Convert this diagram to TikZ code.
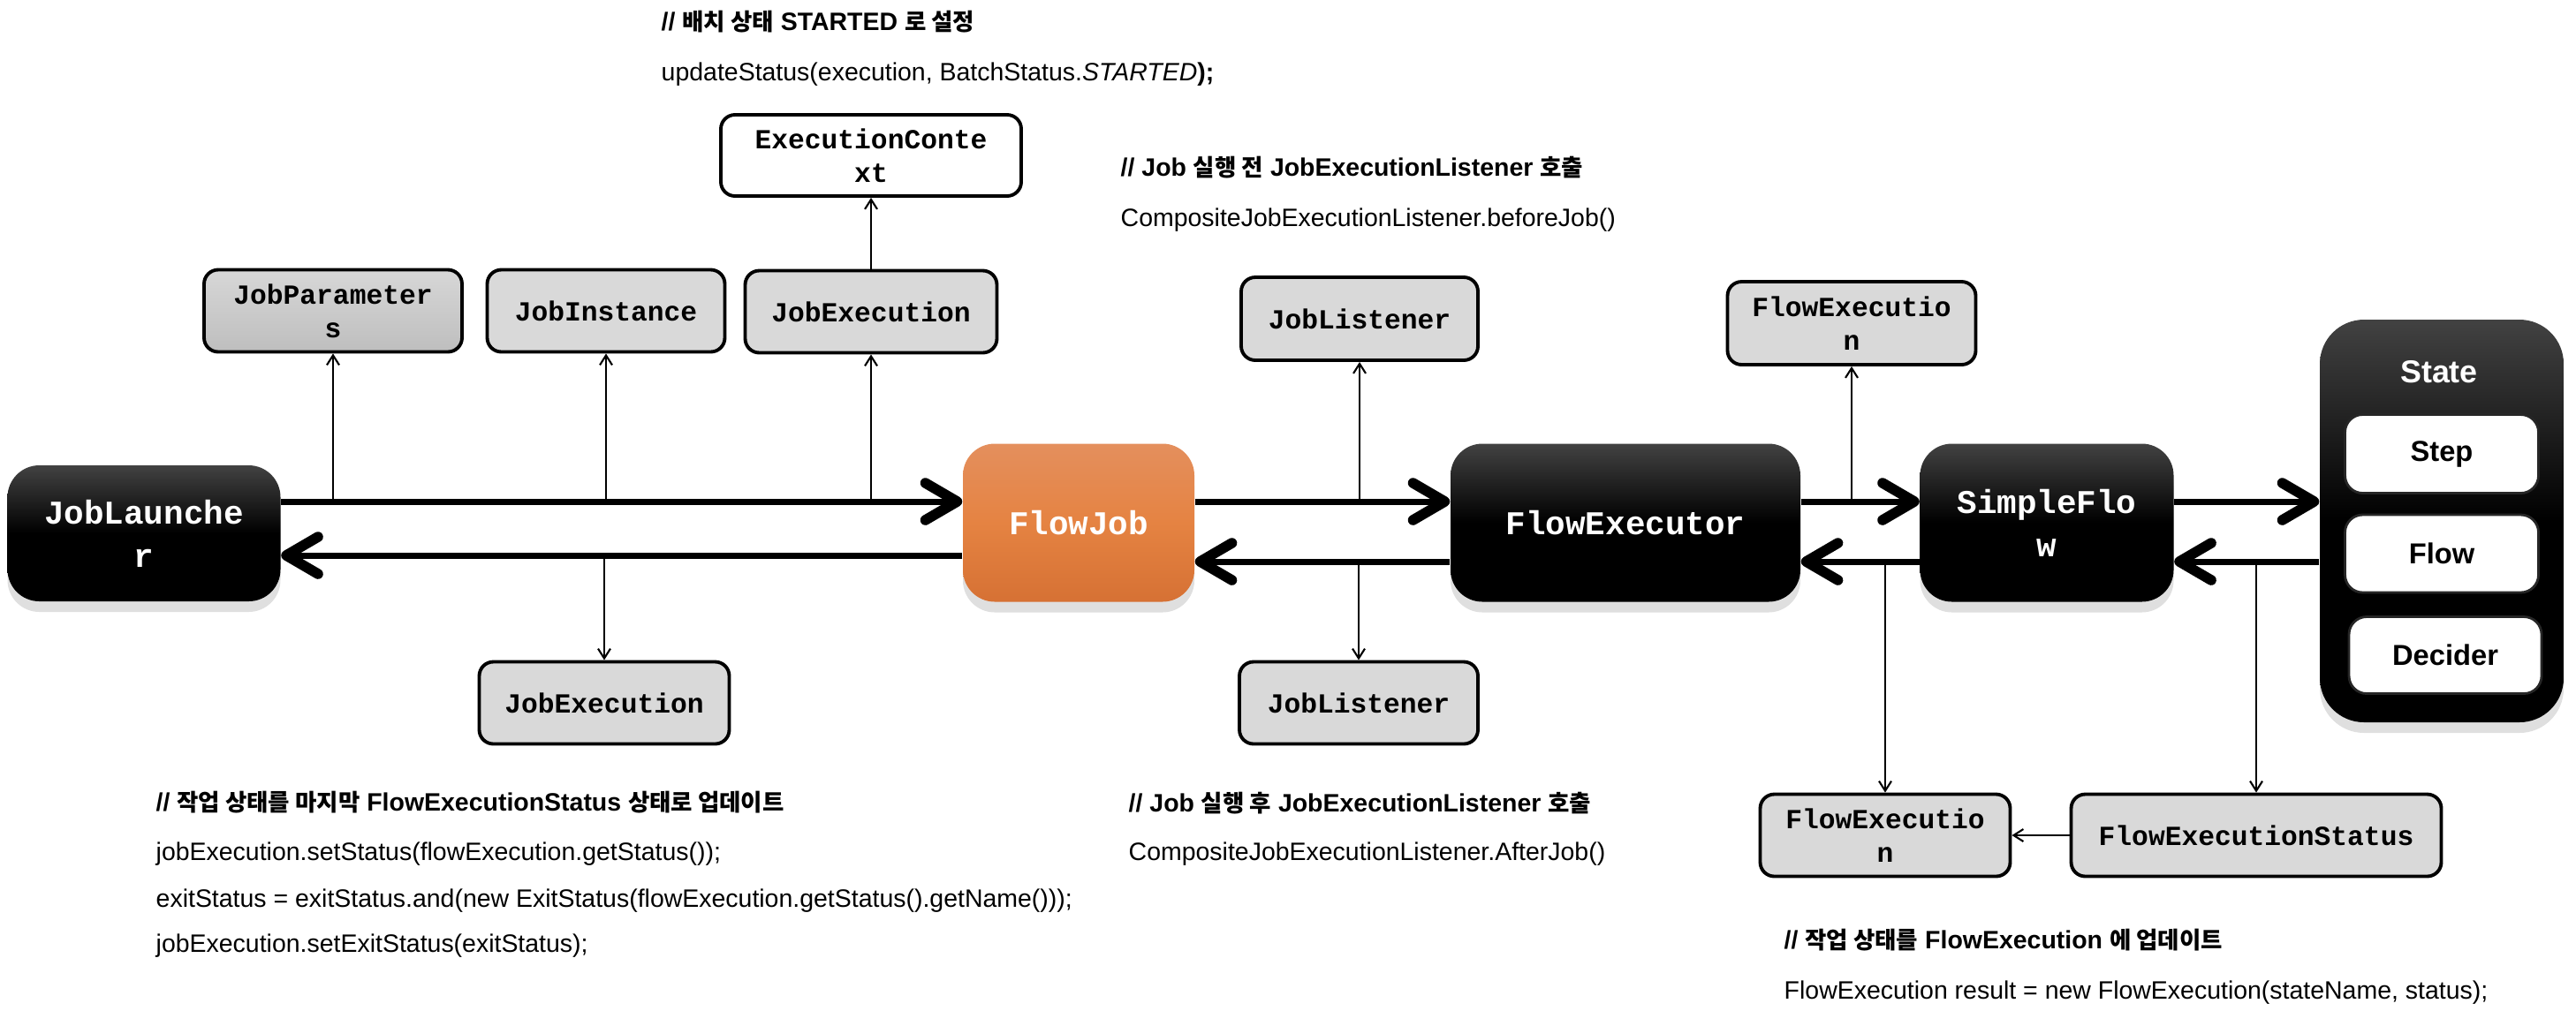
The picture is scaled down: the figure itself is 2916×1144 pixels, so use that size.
\documentclass[tikz,border=0pt]{standalone}
\usepackage{fontspec}
\setmainfont{Liberation Sans}
\setmonofont{Liberation Mono}
\newfontfamily\krfont{Noto Sans CJK KR}[Scale=0.93]
\usetikzlibrary{arrows.meta,shadows}
\newcommand{\LaneArrowType}{Straight Barb[length=3.6mm,width=4.2mm,line width=1.3pt 1,round]}
\newcommand{\LinkArrowType}{Straight Barb[length=1.1mm,width=1.4mm]}
\newcommand{\KrText}[1]{{\krfont #1}}
\definecolor{boxgray}{RGB}{217,217,217}
\definecolor{paramTop}{RGB}{215,215,215}
\definecolor{paramBottom}{RGB}{190,190,190}
\definecolor{darkTop}{RGB}{66,66,66}
\definecolor{jobTop}{RGB}{228,143,93}
\definecolor{jobMid}{RGB}{229,131,66}
\definecolor{jobBottom}{RGB}{214,113,52}

\begin{document}
\begin{tikzpicture}[x=0.1mm,y=-0.1mm,
		boxsize/.style 2 args={minimum width=#1*0.1mm,minimum height=#2*0.1mm},
		lane/.style={line width=2pt,-{\LaneArrowType}},
		link/.style={line width=0.6pt,-{\LinkArrowType}},
		grayBox/.style={draw,line width=1.1pt,rounded corners=1.6mm,fill=boxgray,
			align=center,inner sep=0,
			font=\ttfamily\bfseries\fontsize{8.9}{10.8}\selectfont},
		darkBox/.style={rounded corners=3.6mm,top color=darkTop,bottom color=black,
			middle color=black,text=white,align=center,inner sep=0,
			font=\ttfamily\bfseries\fontsize{10.7}{14}\selectfont,
			drop shadow={shadow xshift=0mm,shadow yshift=-1.2mm,opacity=0.25}},
		stateItem/.style={draw=black!85,line width=0.8pt,rounded corners=2mm,fill=white,
			inner sep=0,font=\bfseries\fontsize{9.3}{11}\selectfont},
		note/.style={anchor=base west,inner sep=0,font=\fontsize{8.1}{10}\selectfont}]
	\useasboundingbox (0,0) rectangle (2916,1144);

	% lanes of the thick arrows
	\coordinate (laneOut) at (0,568);
	\coordinate (laneBackA) at (0,629);
	\coordinate (laneBackB) at (0,636);

	% main chain
	\node[darkBox,boxsize={309}{154}] (JobLauncher) at (163,604) {JobLaunche\\r};
	\node[darkBox,boxsize={262}{179},top color=jobTop,bottom color=jobBottom,
		middle color=jobMid] (FlowJob) at (1221,592) {FlowJob};
	\node[darkBox,boxsize={396}{179}] (FlowExecutor) at (1840,592) {FlowExecutor};
	\node[darkBox,boxsize={287}{179}] (SimpleFlow) at (2317,592) {SimpleFlo\\w};

	\node[darkBox,boxsize={276}{456},rounded corners=5mm] (State) at (2764,590) {};
	\node[text=white,font=\bfseries\fontsize{10.2}{12}\selectfont] (StateTitle)
		at (2761,421) {State};
	\node[stateItem,boxsize={219}{89}] (Step) at (2764,514) {Step};
	\node[stateItem,boxsize={219}{88}] (Flow) at (2764,627) {Flow};
	\node[stateItem,boxsize={218}{87}] (Decider) at (2768,742) {Decider};

	% objects above and below
	\node[grayBox,boxsize={292}{93},top color=paramTop,bottom color=paramBottom]
		(JobParameters) at (377,352) {JobParameter\\s};
	\node[grayBox,boxsize={269}{93}] (JobInstance) at (686,352) {JobInstance};
	\node[grayBox,boxsize={285}{93}] (JobExecutionTop) at (986,353) {JobExecution};
	\node[grayBox,boxsize={340}{92},fill=white] (ExecutionContext) at (986,176)
		{ExecutionConte\\xt};
	\node[grayBox,boxsize={268}{94}] (JobListenerTop) at (1539,361) {JobListener};
	\node[grayBox,boxsize={281}{94}] (FlowExecutionTop) at (2096,366) {FlowExecutio\\n};

	\node[grayBox,boxsize={283}{93}] (JobExecutionBot) at (684,796) {JobExecution};
	\node[grayBox,boxsize={270}{93}] (JobListenerBot) at (1538,796) {JobListener};
	\node[grayBox,boxsize={283}{93}] (FlowExecutionBot) at (2134,946) {FlowExecutio\\n};
	\node[grayBox,boxsize={419}{93}] (FlowExecutionStatus) at (2554,946)
		{FlowExecutionStatus};

	% thick arrows
	\draw[lane] (JobLauncher.east |- laneOut) -- (FlowJob.west |- laneOut);
	\draw[lane] (FlowJob.west |- laneBackA) -- (JobLauncher.east |- laneBackA);
	\draw[lane] (FlowJob.east |- laneOut) -- (FlowExecutor.west |- laneOut);
	\draw[lane] (FlowExecutor.west |- laneBackB) -- (FlowJob.east |- laneBackB);
	\draw[lane] (FlowExecutor.east |- laneOut) -- (SimpleFlow.west |- laneOut);
	\draw[lane] (SimpleFlow.west |- laneBackB) -- (FlowExecutor.east |- laneBackB);
	\draw[lane] (SimpleFlow.east |- laneOut) -- (State.west |- laneOut);
	\draw[lane] (State.west |- laneBackB) -- (SimpleFlow.east |- laneBackB);

	% thin arrows
	\draw[link] (JobParameters.south |- laneOut) -- (JobParameters.south);
	\draw[link] (JobInstance.south |- laneOut) -- (JobInstance.south);
	\draw[link] (JobExecutionTop.south |- laneOut) -- (JobExecutionTop.south);
	\draw[link] (JobExecutionTop) -- (ExecutionContext);
	\draw[link] (JobExecutionBot.north |- laneBackA) -- (JobExecutionBot.north);
	\draw[link] (JobListenerTop.south |- laneOut) -- (JobListenerTop.south);
	\draw[link] (JobListenerBot.north |- laneBackB) -- (JobListenerBot.north);
	\draw[link] (FlowExecutionTop.south |- laneOut) -- (FlowExecutionTop.south);
	\draw[link] (FlowExecutionBot.north |- laneBackB) -- (FlowExecutionBot.north);
	\draw[link] (FlowExecutionStatus.north |- laneBackB) -- (FlowExecutionStatus.north);
	\draw[link] (FlowExecutionStatus) -- (FlowExecutionBot);

	% code notes
	\node[note] (startNote) at (748,34)
		{\bfseries // \KrText{배치 상태} STARTED \KrText{로 설정}};
	\node[note] (startCode) at (748,91)
		{updateStatus(execution, BatchStatus.\textit{STARTED}\textbf{);}};
	\node[note] (beforeNote) at (1268,199)
		{\bfseries // Job \KrText{실행 전} JobExecutionListener \KrText{호출}};
	\node[note] (beforeCode) at (1268,256) {CompositeJobExecutionListener.beforeJob()};

	\node[note] (statusNote) at (176,918)
		{\bfseries // \KrText{작업 상태를 마지막} FlowExecutionStatus \KrText{상태로 업데이트}};
	\node[note] (statusCodeA) at (176,974)
		{jobExecution.setStatus(flowExecution.getStatus());};
	\node[note] (statusCodeB) at (176,1027)
		{exitStatus = exitStatus.and(new ExitStatus(flowExecution.getStatus().getName()));};
	\node[note] (statusCodeC) at (176,1078) {jobExecution.setExitStatus(exitStatus);};

	\node[note] (afterNote) at (1277,919)
		{\bfseries // Job \KrText{실행 후} JobExecutionListener \KrText{호출}};
	\node[note] (afterCode) at (1277,974) {CompositeJobExecutionListener.AfterJob()};

	\node[note] (resultNote) at (2019,1074)
		{\bfseries // \KrText{작업 상태를} FlowExecution \KrText{에 업데이트}};
	\node[note] (resultCode) at (2019,1131)
		{FlowExecution result = new FlowExecution(stateName, status);};
\end{tikzpicture}
\end{document}
